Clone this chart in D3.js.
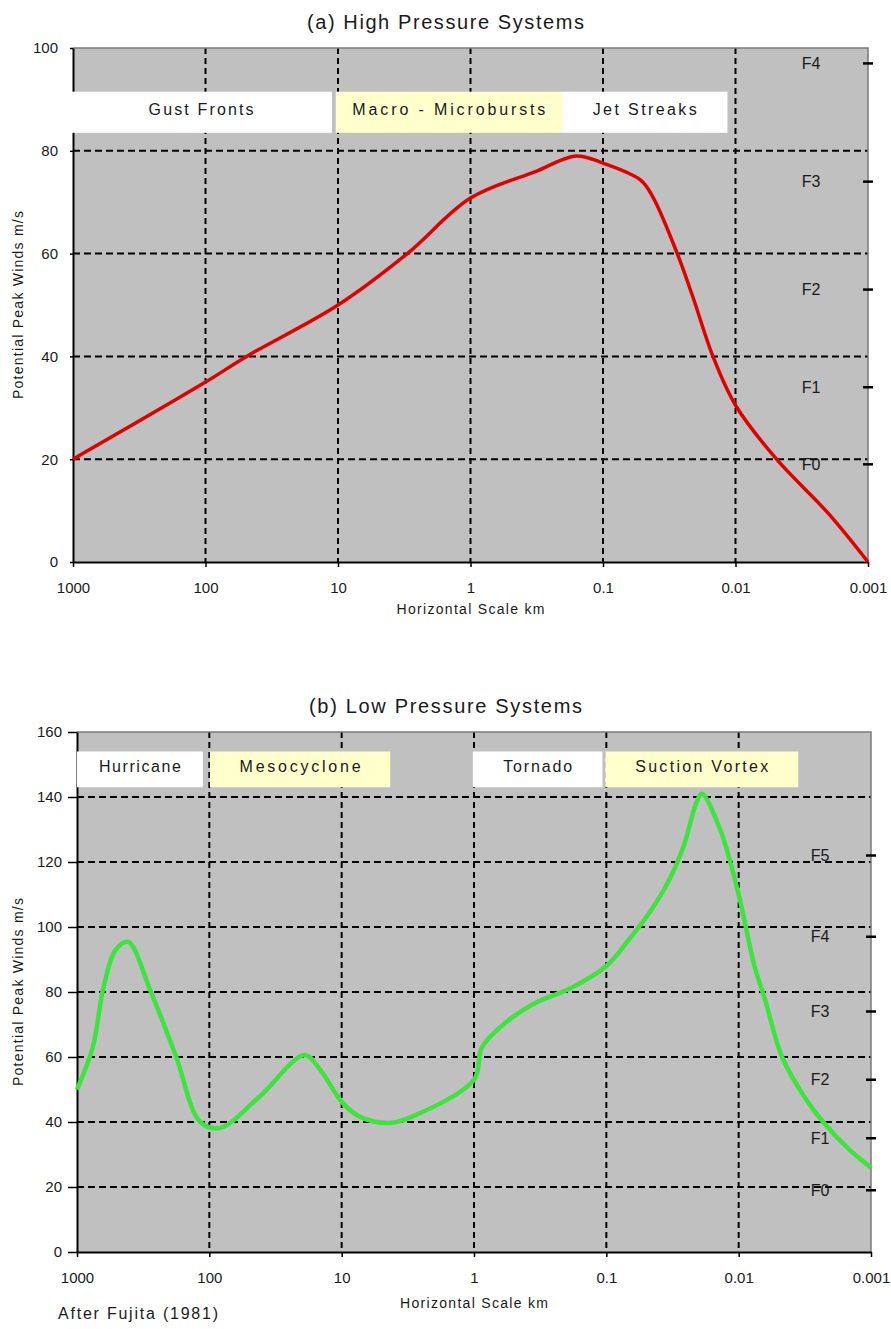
<!DOCTYPE html>
<meta charset="utf-8">
<script src="https://d3js.org/d3.v7.min.js"></script>
<style>
  body { margin: 0; background: #fff; }
  text { font-family: "Liberation Sans", Arial, sans-serif; fill: #1a1a1a; }
</style>
<div id="chart"></div>
<script>

// horizontal scale ticks (km), shared by both panels
var xTicks = [1000, 100, 10, 1, 0.1, 0.01, 0.001];
var xTickLabels = ["1000", "100", "10", "1", "0.1", "0.01", "0.001"];

// (a) high pressure systems - peak winds (m/s) against horizontal scale (km)
var highKm   = [1000, 100, 49, 10, 3, 1, 0.32, 0.16, 0.1, 0.052, 0.042, 0.0275, 0.021, 0.0148, 0.01, 0.0049, 0.002, 0.001];
var highWind = [20, 35, 40, 50, 60, 70.8, 76, 79, 77.6, 74.3, 71, 60, 51.6, 40, 30.5, 20, 9.5, 0];
var highYTicks = [0, 20, 40, 60, 80, 100];
var highBandNames = ["Gust Fronts", "Macro - Microbursts", "Jet Streaks"];
var highBandFrom  = [1050, 10.4, 0.204];
var highBandTo    = [11.1, 0.204, 0.0115];
var highFNames = ["F0", "F1", "F2", "F3", "F4"];
var highFWind  = [19, 34, 53, 74, 97];

// (b) low pressure systems
var lowKm   = [1000, 760, 630, 510, 410, 280, 180, 117, 83, 42, 19, 14.5, 9.8, 7.2, 4.3, 3.0, 1.0, 0.87, 0.56, 0.33, 0.19, 0.1, 0.068, 0.048, 0.034, 0.026, 0.021, 0.019, 0.0138, 0.01, 0.0076, 0.0063, 0.0047, 0.0031, 0.0023, 0.00145, 0.001];
var lowWind = [50, 63, 81.5, 93, 95.4, 80.6, 60.6, 40, 38.2, 47.7, 60.6, 56, 45.8, 41.5, 39.7, 41.5, 53, 63, 71, 77, 81, 88, 96, 104, 114, 125, 138, 141, 130, 110, 88, 77.5, 60, 47, 40, 31.4, 26];
var lowYTicks = [0, 20, 40, 60, 80, 100, 120, 140, 160];
var lowBandNames = ["Hurricane", "Mesocyclone", "Tornado", "Suction Vortex"];
var lowBandFrom  = [1000, 99, 1.02, 0.102];
var lowBandTo    = [112, 4.3, 0.107, 0.00355];
var lowFNames = ["F0", "F1", "F2", "F3", "F4", "F5"];
var lowFWind  = [19, 35, 53, 74, 97, 122];

var W = 891, H = 1329;
var svg = d3.select("#chart").append("svg")
  .attr("width", W)
  .attr("height", H);

var bandFill = ["#ffffff", "#ffffcc"];

var panels = [
  { title: "(a) High Pressure Systems", titleY: 29, titleW: 277,
    left: 73, right: 868, top: 48, bottom: 562, yMax: 100, yTicks: highYTicks, yTickSize: 3,
    km: highKm, wind: highWind, color: "#e00000", lineW: 3.5,
    bandNames: highBandNames, bandFrom: highBandFrom, bandTo: highBandTo, bandLo: 83.5, bandHi: 91.5,
    bandW: [105, 193, 104],
    fNames: highFNames, fWind: highFWind, fDx: 57,
    xTitleY: 614 },
  { title: "(b) Low Pressure Systems", titleY: 713, titleW: 273,
    left: 77, right: 871, top: 732, bottom: 1252, yMax: 160, yTicks: lowYTicks, yTickSize: 9,
    km: lowKm, wind: lowWind, color: "#3de43d", lineW: 4.5,
    bandNames: lowBandNames, bandFrom: lowBandFrom, bandTo: lowBandTo, bandLo: 143, bandHi: 154,
    bandW: [82, 121, 69, 133],
    fNames: lowFNames, fWind: lowFWind, fDx: 51,
    xTitleY: 1308 }
];

panels.forEach(drawPanel);

// credit line
svg.append("text")
  .attr("x", 58)
  .attr("y", 1319)
  .attr("font-size", 16)
  .attr("textLength", 160)
  .attr("lengthAdjust", "spacing")
  .text("After Fujita (1981)");

function drawPanel(p) {
  var g = svg.append("g");
  var x = d3.scaleLog().domain([1000, 0.001]).range([p.left, p.right]);
  var y = d3.scaleLinear().domain([0, p.yMax]).range([p.bottom, p.top]);

  // title
  g.append("text")
    .attr("x", W / 2)
    .attr("y", p.titleY)
    .attr("text-anchor", "middle")
    .attr("font-size", 20)
    .attr("textLength", p.titleW)
    .attr("lengthAdjust", "spacing")
    .text(p.title);

  // plot background
  g.append("rect")
    .attr("x", p.left).attr("y", p.top)
    .attr("width", p.right - p.left)
    .attr("height", p.bottom - p.top)
    .attr("fill", "#c0c0c0");

  // dashed grid
  g.selectAll(".hgrid")
    .data(p.yTicks.filter(function(v) { return v > 0 && v < p.yMax; }))
    .join("line")
      .attr("x1", p.left).attr("x2", p.right)
      .attr("y1", function(d) { return y(d); })
      .attr("y2", function(d) { return y(d); })
      .attr("stroke", "#000").attr("stroke-width", 2)
      .attr("stroke-dasharray", "7,4");
  g.selectAll(".vgrid")
    .data(xTicks.slice(1, -1))
    .join("line")
      .attr("x1", function(d) { return x(d); })
      .attr("x2", function(d) { return x(d); })
      .attr("y1", p.top).attr("y2", p.bottom)
      .attr("stroke", "#000").attr("stroke-width", 2)
      .attr("stroke-dasharray", "6,4");

  // top and right frame
  g.append("path")
    .attr("d", "M" + p.left + "," + p.top + "H" + p.right + "V" + p.bottom)
    .attr("fill", "none").attr("stroke", "#7a7a7a").attr("stroke-width", 1.5);

  // axes
  var xAxis = g.append("g")
    .attr("transform", "translate(0," + p.bottom + ")")
    .call(d3.axisBottom(x)
      .tickValues(xTicks)
      .tickFormat(function(d) { return xTickLabels[xTicks.indexOf(d)]; })
      .tickSize(5).tickSizeOuter(0).tickPadding(15));
  var yAxis = g.append("g")
    .attr("transform", "translate(" + p.left + ",0)")
    .call(d3.axisLeft(y)
      .tickValues(p.yTicks)
      .tickSize(p.yTickSize).tickSizeOuter(0).tickPadding(15 - p.yTickSize));
  [xAxis, yAxis].forEach(function(a) {
    a.attr("font-family", null).attr("font-size", 15);
    a.select(".domain").attr("stroke", "#000").attr("stroke-width", 2);
    a.selectAll(".tick line").attr("stroke", "#000").attr("stroke-width", 1.5);
    a.selectAll(".tick text").attr("fill", "#1a1a1a");
  });

  // axis titles
  g.append("text")
    .attr("x", (p.left + p.right) / 2)
    .attr("y", p.xTitleY)
    .attr("text-anchor", "middle")
    .attr("font-size", 14)
    .attr("textLength", 148)
    .attr("lengthAdjust", "spacing")
    .text("Horizontal Scale km");
  g.append("text")
    .attr("transform", "translate(23," + (p.top + p.bottom) / 2 + ") rotate(-90)")
    .attr("text-anchor", "middle")
    .attr("font-size", 14)
    .attr("textLength", 188)
    .attr("lengthAdjust", "spacing")
    .text("Potential Peak Winds m/s");

  // phenomenon bands
  var bands = g.selectAll(".band")
    .data(p.bandNames)
    .join("g");
  bands.append("rect")
    .attr("x", function(d, i) { return x(p.bandFrom[i]); })
    .attr("width", function(d, i) { return x(p.bandTo[i]) - x(p.bandFrom[i]); })
    .attr("y", y(p.bandHi))
    .attr("height", y(p.bandLo) - y(p.bandHi))
    .attr("fill", function(d, i) { return bandFill[i % 2]; });
  bands.append("text")
    .attr("x", function(d, i) { return (x(p.bandFrom[i]) + x(p.bandTo[i])) / 2; })
    .attr("y", (y(p.bandHi) + y(p.bandLo)) / 2 - 3)
    .attr("dy", "0.35em")
    .attr("text-anchor", "middle")
    .attr("font-size", 16)
    .attr("textLength", function(d, i) { return p.bandW[i]; })
    .attr("lengthAdjust", "spacing")
    .text(function(d) { return d; });

  // Fujita scale marks on the right edge
  g.selectAll(".ftick")
    .data(p.fWind)
    .join("line")
      .attr("x1", p.right - 5).attr("x2", p.right + 5)
      .attr("y1", function(d) { return y(d); })
      .attr("y2", function(d) { return y(d); })
      .attr("stroke", "#000").attr("stroke-width", 2.5);
  g.selectAll(".flabel")
    .data(p.fNames)
    .join("text")
      .attr("x", p.right - p.fDx)
      .attr("y", function(d, i) { return y(p.fWind[i]); })
      .attr("dy", "0.35em")
      .attr("text-anchor", "middle")
      .attr("font-size", 16)
      .text(function(d) { return d; });

  // wind curve
  var line = d3.line()
    .x(function(d, i) { return x(p.km[i]); })
    .y(function(d) { return y(d); })
    .curve(d3.curveCatmullRom.alpha(0.5));
  g.append("path")
    .datum(p.wind)
    .attr("d", line)
    .attr("fill", "none")
    .attr("stroke", p.color)
    .attr("stroke-width", p.lineW)
    .attr("stroke-linejoin", "round");
}

</script>
